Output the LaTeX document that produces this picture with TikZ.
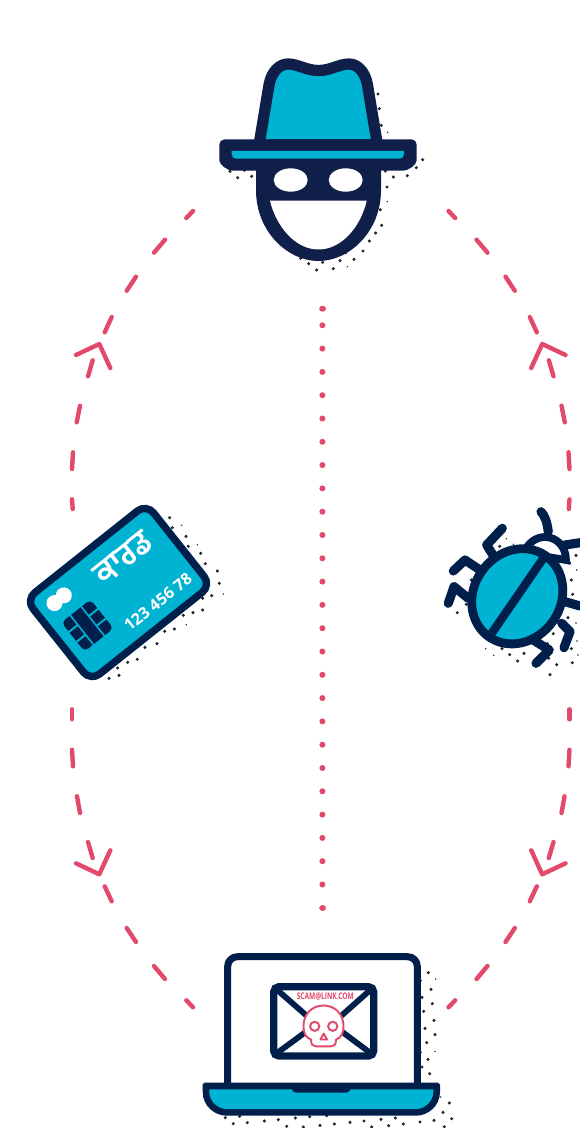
\documentclass[tikz,border=0pt]{standalone}
\usepackage{fontspec}
\usepackage{xcolor}
\usepackage{tikz}
\usetikzlibrary{calc}
\newfontfamily\gurmukhifont[Script=Gurmukhi]{Hind Jalandhar}
\newfontfamily\labelfont{Open Sans}
\definecolor{navyK}{HTML}{001F4B}
\definecolor{navyH}{HTML}{101E4A}
\definecolor{cyanF}{HTML}{00B3D3}
\definecolor{pinkL}{HTML}{E2496A}
\definecolor{speck}{HTML}{22262E}
\begin{document}
\begin{tikzpicture}[
  x=0.02cm, y=-0.02cm,
  dashP/.style={pinkL, line width=2.5pt, line cap=round, line join=round},
  legK/.style={navyK, line width=5.2pt, line cap=round, line join=round},
  linkK/.style={navyK, line width=3.3pt, line join=round}
]
\useasboundingbox (0,0) rectangle (580,1128);
% speckle behind the icons
\foreach \zx/\zy in {534/162,538/206,544/256,90/394,113/413,155/409,133/391,668/359,649/383,622/407,580/411,556/393,561/441,541/509,545/556,522/537,527/579,508/603,489/633,462/658,437/638,420/662,400/686,368/667,350/690,326/671,302/655}
  \fill[speck] ({200+\zx/3},{40+\zy/3}) circle (1.7);
\foreach \zx/\zy in {479/83,487/113,528/139,535/169,572/190,586/221,622/243,628/280,605/317,578/325,578/360,549/368,520/376,493/417,464/424,441/461,405/472,382/508,353/517,327/556,297/565,323/534}
  \fill[speck] ({10+\zx/3},{490+\zy/3}) circle (1.7);
\foreach \zx/\zy in {209/154,124/255,109/328,82/353,438/181,419/204,424/255,428/298,414/368,370/416,424/461,352/446,356/490,380/509,427/503,360/539,282/475,263/498,239/479,216/461}
  \fill[speck] ({430+\zx/3},{495+\zy/3}) circle (1.7);
\foreach \zx/\zy in {715/98,691/122,723/148,696/172,727/191,701/214,732/241,705/265,735/284,710/308,691/337,714/358,696/381,719/401,778/489,759/517,785/536,732/541,690/546,763/560,640/552,616/534,596/557,573/538,545/561,522/543,480/547,433/552,410/527,390/556,359/530,340/561,316/534,290/559,265/539,223/543,172/548,149/529,130/551,106/533}
  \fill[speck] ({190+\zx/3},{940+\zy/3}) circle (1.7);
% small specks
\foreach \sx/\sy in {387.7/132.3,387.3/201.7,347.3/266.7,181.7/525.3,197.3/544.7,223.3/594,186.3/624.7,506.3/538.7,513.3/544.3,576.7/570,576/623,577/641,578/655,493.7/655.3,485.7/648.7,435.7/979,435/1051.3,440.7/1097}
  \fill[speck] (\sx,\sy) circle (0.8);
% dashes left and right
\foreach \mir/\off in {1/0,-1/641.5}{
  \foreach \ax/\ay/\bx/\by in {193/211/186.3/218,165/239.7/154/252.7,136/276.7/126.7/290.7,111.7/317/104.7/332.3,92.7/360.3/88/376.3,80/405.7/76.7/422.3,73/452.3/72/469,72/499.3/72.7/509,72/709.3/72/719.3,72/749.7/73/766.3,77/796.3/80/813,88/842/92.7/858,104.7/886.3/111.7/901.3,126.7/928/136/942,154/966/165/979,186.3/1000.3/193/1007.3}
    \draw[dashP] ({\off+\mir*\ax},\ay) -- ({\off+\mir*\bx},\by);
  \draw[dashP] ({\off+\mir*76},355) -- ({\off+\mir*99.3},344) -- ({\off+\mir*110.3},368);
  \draw[dashP] ({\off+\mir*76},863.3) -- ({\off+\mir*99.3},874.3) -- ({\off+\mir*110.3},850.3);
}
% dotted middle
\fill[pinkL] (322.6,308.7) ellipse (3.4 and 3);
\foreach \k in {0,...,24}
  \fill[pinkL] (322.4,{325.3+23.3*\k}) circle (3);
\fill[pinkL] (322.6,908) ellipse (3.4 and 3);
% hat
\draw[navyH, fill=cyanF, line width=6.4pt, line join=round] (259,145) -- (269,85) .. controls (271.5,71) and (280,64) .. (288,64) .. controls (298,64) and (306,70.5) .. (318.5,70.5) .. controls (331,70.5) and (339,64) .. (349,64) .. controls (357,64) and (365,71) .. (367.5,85) -- (377.5,145) -- cycle;
\fill[navyH, rounded corners=3pt] (219.3,139.3) -- (416.7,139.3) -- (416.7,150) -- (416.7,155) .. controls (416.7,165) and (408,170.7) .. (398,170.7) -- (238,170.7) .. controls (228,170.7) and (219.3,165) .. (219.3,155) -- cycle;
\fill[cyanF] (231.7,151) -- (404,151) -- (404,154) .. controls (404,157) and (402,158.7) .. (400,158.7) -- (236,158.7) .. controls (233.5,158.7) and (231.7,157) .. (231.7,154) -- cycle;
% face
\fill[navyH] (256,165) -- (256,190) .. controls (256,232) and (288,261) .. (318.5,261) .. controls (349,261) and (381,232) .. (381,190) -- (381,165) -- cycle;
\fill[white] (270,200.7) .. controls (276,226) and (295,249.5) .. (318.5,249.5) .. controls (342,249.5) and (361,226) .. (366.7,200.7) -- cycle;
\fill[white] (290.7,180) ellipse (17 and 11.7);
\fill[white] (345.7,180) ellipse (17 and 11.7);
% card
\begin{scope}[shift={(118.5,592.5)}, rotate=38.5]
\draw[navyK, fill=cyanF, line width=4.2pt, rounded corners=6.5pt] (-77,-52) rectangle (77,52);
\fill[white] (-56.7,-31.6) circle (8);
\fill[white] (-44.6,-31.8) circle (8);
\fill[navyK, rounded corners=2.6pt] (-63.3,-12) rectangle (-26.3,25);
\draw[cyanF, line width=0.9pt] (-52,-12.5) -- (-52,25.5);
\draw[cyanF, line width=0.9pt] (-38,-12.5) -- (-38,25.5);
\foreach \gy in {0,12.5}{
  \draw[cyanF, line width=1.1pt] (-64,\gy) -- (-52,\gy);
  \draw[cyanF, line width=1.1pt] (-38,\gy) -- (-25.6,\gy);
}
\node[rotate=38.5, text=white, inner sep=0pt, font=\gurmukhifont\bfseries\fontsize{18.5}{19}\selectfont] (cardword) at (25,-24) {ਕਾਰਡ};
\node[rotate=38.5, text=white, inner sep=0pt, font=\labelfont\bfseries\fontsize{9.1}{10}\selectfont] (cardnum) at (25,32) {123 456 78};
\end{scope}
% bug
\draw[legK] (541,511.7) .. controls (545,516) and (547,522) .. (548.3,531.7);
\draw[legK] (565,545) -- (580,542.7);
\draw[legK] (565,601.7) -- (580,606);
\draw[legK] (561.7,623.3) -- (570,631.7) -- (564,647.7);
\draw[legK] (533.3,640) -- (549.3,650) -- (536,663.3);
\draw[legK] (480,570) -- (465,560) -- (453.3,571);
\draw[legK] (468.3,598.3) -- (454,586.7) -- (448.3,603.3);
\draw[legK] (495,558.3) -- (486.7,545) -- (502.3,528.3);
\draw[navyK, fill=white, line width=4.4pt] (524,553) .. controls (528,542) and (537,537) .. (545,537) .. controls (556,537) and (566,546) .. (566,560) -- cycle;
\draw[navyK, fill=cyanF, line width=5pt, rotate around={55:(517.3,596.3)}] (517.3,596.3) ellipse (49.5 and 43.5);
\draw[navyK, line width=4.8pt] (491.7,633.3) -- (543.3,558.3);
% laptop
\draw[navyK, fill=white, line width=4pt, rounded corners=5.5pt] (227.7,1088) -- (227.7,956.7) -- (417.3,956.7) -- (417.3,1088);
\fill[navyK] (204.5,1082.7) -- (438.2,1082.7) .. controls (439.4,1082.7) and (440,1083.3) .. (440,1084.5) -- (440,1092) .. controls (440,1106) and (428,1115.7) .. (416,1115.7) -- (226.7,1115.7) .. controls (214.7,1115.7) and (202.7,1106) .. (202.7,1092) -- (202.7,1084.5) .. controls (202.7,1083.3) and (203.3,1082.7) .. (204.5,1082.7) -- cycle;
\fill[cyanF] (209.3,1089.3) -- (433.3,1089.3) -- (433.3,1092) .. controls (433.3,1101) and (425,1109) .. (416,1109) -- (226.7,1109) .. controls (217.7,1109) and (209.3,1101) .. (209.3,1092) -- cycle;
\fill[navyK] (291.7,1089) -- (350.7,1089) .. controls (349.5,1091.5) and (348,1092.7) .. (346,1092.7) -- (296,1092.7) .. controls (294,1092.7) and (292.9,1091.5) .. (291.7,1089) -- cycle;
% envelope
\draw[navyK, line width=4.2pt, rounded corners=3pt] (273.7,986.7) rectangle (373.7,1056);
\draw[linkK] (275,988) -- (307,1016);
\draw[linkK] (372.5,988) -- (341,1016);
\draw[linkK] (275,1054.5) -- (307,1031);
\draw[linkK] (372.5,1054.5) -- (341,1031);
\node[text=pinkL, inner sep=0pt, xscale=0.72, font=\labelfont\bfseries\fontsize{5.2}{6}\selectfont] (scamlabel) at (325.3,997) {SCAM@LINK.COM};
% skull
\draw[pinkL, fill=white, line width=1.1pt, line join=round] (311,1039.5) .. controls (311,1045) and (313,1046.3) .. (316,1046.3) -- (331,1046.3) .. controls (334,1046.3) and (336,1045) .. (336,1039.5) .. controls (341,1037.5) and (343.5,1034) .. (343.5,1026) .. controls (343.5,1014) and (335,1005.5) .. (323.5,1005.5) .. controls (312,1005.5) and (303.5,1014) .. (303.5,1026) .. controls (303.5,1034) and (306,1037.5) .. (311,1039.5) -- cycle;
\draw[pinkL, line width=1.1pt] (314.7,1026.3) circle (4.6);
\draw[pinkL, line width=1.1pt] (332.7,1026.3) circle (4.6);
\draw[pinkL, line width=1.1pt, line join=round] (323.7,1033.5) -- (327,1039.5) -- (320.4,1039.5) -- cycle;
\end{tikzpicture}
\end{document}
